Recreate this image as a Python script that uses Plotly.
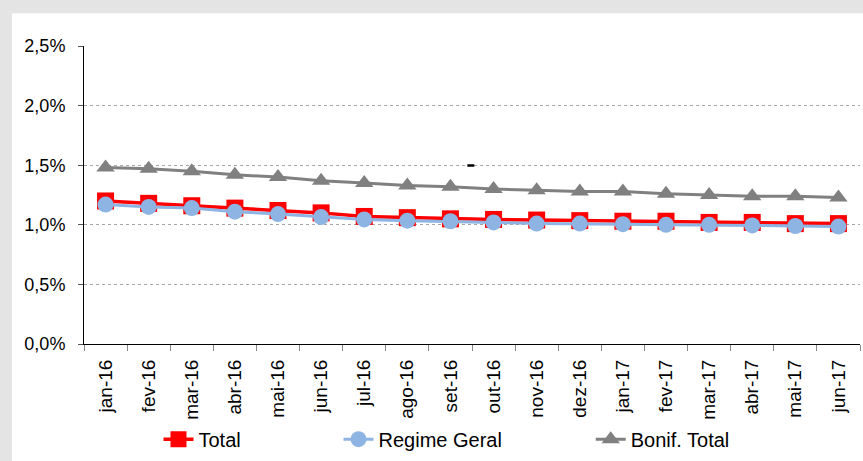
import plotly.graph_objects as go

months = ["jan-16", "fev-16", "mar-16", "abr-16", "mai-16", "jun-16", "jul-16", "ago-16", "set-16",
          "out-16", "nov-16", "dez-16", "jan-17", "fev-17", "mar-17", "abr-17", "mai-17", "jun-17"]
total = [1.20, 1.18, 1.16, 1.14, 1.12, 1.10, 1.07, 1.06, 1.05,
         1.045, 1.04, 1.035, 1.03, 1.03, 1.02, 1.02, 1.01, 1.01]
regime_geral = [1.17, 1.15, 1.14, 1.11, 1.09, 1.065, 1.045, 1.035, 1.03,
                1.02, 1.01, 1.01, 1.005, 1.00, 1.00, 0.995, 0.99, 0.985]
bonif_total = [1.48, 1.47, 1.45, 1.42, 1.40, 1.37, 1.35, 1.33, 1.32,
               1.30, 1.29, 1.28, 1.28, 1.26, 1.25, 1.24, 1.24, 1.23]
y_ticks = [0, 0.5, 1.0, 1.5, 2.0, 2.5]
y_tick_labels = ["0,0%", "0,5%", "1,0%", "1,5%", "2,0%", "2,5%"]

FONT = "Liberation Sans, Arial, sans-serif"

fig = go.Figure()
fig.add_trace(go.Scatter(x=months, y=total, name="Total", mode="lines+markers",
                         line=dict(color="#FF0000", width=3.5),
                         marker=dict(symbol="square", size=17, color="#FF0000"),
                         legend="legend"))
fig.add_trace(go.Scatter(x=months, y=regime_geral, name="Regime Geral", mode="lines+markers",
                         line=dict(color="#8DB4E2", width=3),
                         marker=dict(symbol="circle", size=16, color="#8DB4E2"),
                         legend="legend2"))
fig.add_trace(go.Scatter(x=months, y=bonif_total, name="Bonif. Total", mode="lines+markers",
                         line=dict(color="#808080", width=3),
                         marker=dict(symbol="triangle-up", size=16, color="#808080"),
                         legend="legend3"))

leg_common = dict(orientation="h", yanchor="middle", y=-0.315, xanchor="left",
                  font=dict(family=FONT, size=20, color="#000000"),
                  bgcolor="rgba(0,0,0,0)", visible=True)

fig.update_layout(
    width=863, height=461,
    margin=dict(l=84, r=3, t=46, b=116),
    paper_bgcolor="#E4E4E4", plot_bgcolor="white",
    font=dict(family=FONT, size=20, color="#000000"),
    showlegend=True,
    legend=dict(x=0.096, **leg_common),
    legend2=dict(x=0.328, **leg_common),
    legend3=dict(x=0.653, **leg_common),
    xaxis=dict(type="category", tickangle=-90, tickson="boundaries",
               ticks="outside", ticklen=6, tickcolor="#888888",
               showline=True, linecolor="#000000", linewidth=1,
               showgrid=False, range=[-0.5, len(months) - 0.5], automargin=False,
               ticklabelstandoff=7,
               tickfont=dict(family=FONT, size=19, color="#000000")),
    yaxis=dict(range=[0, 2.5], tickmode="array", tickvals=y_ticks, ticktext=y_tick_labels,
               ticks="outside", ticklen=5, tickcolor="#555555",
               showline=True, linecolor="#000000", linewidth=1,
               showgrid=True, gridcolor="#A6A6A6", griddash="dot", gridwidth=1,
               zeroline=False, automargin=False, ticklabelstandoff=9,
               tickfont=dict(family=FONT, size=18, color="#000000")),
    shapes=[
        dict(type="rect", xref="paper", yref="paper", x0=-0.0928, x1=1.01, y0=-0.40, y1=1.110,
             fillcolor="white", line=dict(width=0), layer="below"),
        dict(type="line", xref="paper", yref="paper", x0=0.494, x1=0.503, y0=0.599, y1=0.599,
             line=dict(color="#000000", width=2.5)),
    ],
)

fig.write_html("out.html", config={"displayModeBar": False},
               post_script="document.body.style.margin='0px';")
